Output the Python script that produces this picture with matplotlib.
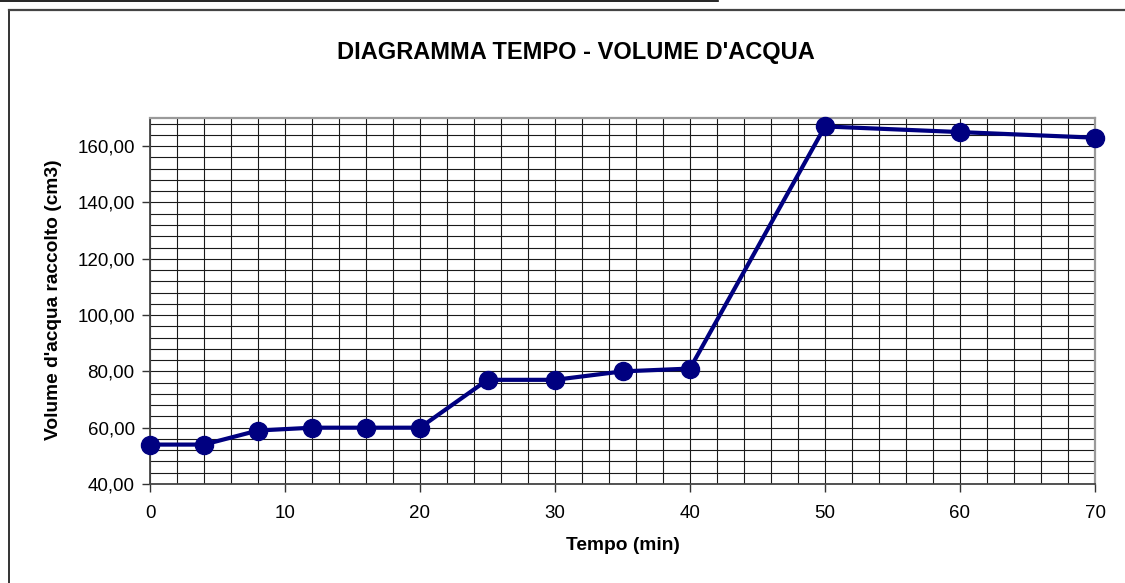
import matplotlib
matplotlib.use("Agg")
import matplotlib.pyplot as plt
from matplotlib.lines import Line2D
from matplotlib.ticker import MultipleLocator, FuncFormatter

# tempo (min) e volume d'acqua raccolto (cm3)
tempo = [0, 4, 8, 12, 16, 20, 25, 30, 35, 40, 50, 60, 70]
volume = [54, 54, 59, 60, 60, 60, 77, 77, 80, 81, 167, 165, 163]

x_ticks = [0, 10, 20, 30, 40, 50, 60, 70]
y_ticks = [40, 60, 80, 100, 120, 140, 160]

plt.rcParams['font.family'] = ['Liberation Sans', 'DejaVu Sans']

W, H = 1125, 583
fig = plt.figure(figsize=(W / 100, H / 100), dpi=100)
fig.patch.set_facecolor('white')

# cornice dell'area grafico
fig.add_artist(Line2D([9 / W, 9 / W], [0, 1 - 10 / H], color='#333333', lw=1.4))
fig.add_artist(Line2D([9 / W, 1], [1 - 10 / H, 1 - 10 / H], color='#444444', lw=1.6))
fig.add_artist(Line2D([0, 718 / W], [1 - 0.6 / H, 1 - 0.6 / H], color='black', lw=1.2))

ax = fig.add_axes([150 / W, 99 / H, 945 / W, 366 / H])
ax.set_xlim(0, 70)
ax.set_ylim(40, 170)

ax.xaxis.set_major_locator(MultipleLocator(10))
ax.xaxis.set_minor_locator(MultipleLocator(2))
ax.yaxis.set_major_locator(MultipleLocator(20))
ax.yaxis.set_minor_locator(MultipleLocator(4))
ax.set_xticks(x_ticks)
ax.set_yticks(y_ticks)
ax.yaxis.set_major_formatter(FuncFormatter(lambda v, p: f"{v:.2f}".replace('.', ',')))

ax.grid(True, which='both', color='#1a1a1a', lw=0.8)
ax.set_axisbelow(True)
ax.tick_params(which='minor', length=0)
ax.tick_params(which='major', length=6, width=1, color='#333333', labelsize=13.5)
ax.tick_params(axis='x', pad=9)
ax.tick_params(axis='y', pad=5)

for s in ['top', 'right']:
    ax.spines[s].set_color('#9a9a9a')
    ax.spines[s].set_linewidth(1.6)
for s in ['left', 'bottom']:
    ax.spines[s].set_color('#444444')
    ax.spines[s].set_linewidth(1.3)

ax.plot(tempo, volume, color='#000080', lw=3.0, marker='o', markersize=13,
        markerfacecolor='#000080', markeredgecolor='#000080', clip_on=False, zorder=5)

fig.text(576 / W, 1 - 53 / H, "DIAGRAMMA TEMPO - VOLUME D'ACQUA",
         ha='center', va='center', fontsize=17, fontweight='bold')
fig.text(623 / W, 1 - 546 / H, "Tempo (min)", ha='center', va='center',
         fontsize=13.8, fontweight='bold')
fig.text(54 / W, 1 - 300 / H, "Volume d'acqua raccolto (cm3)", ha='center', va='center',
         rotation=90, fontsize=13.8, fontweight='bold')

fig.savefig("out.png", dpi=100)
